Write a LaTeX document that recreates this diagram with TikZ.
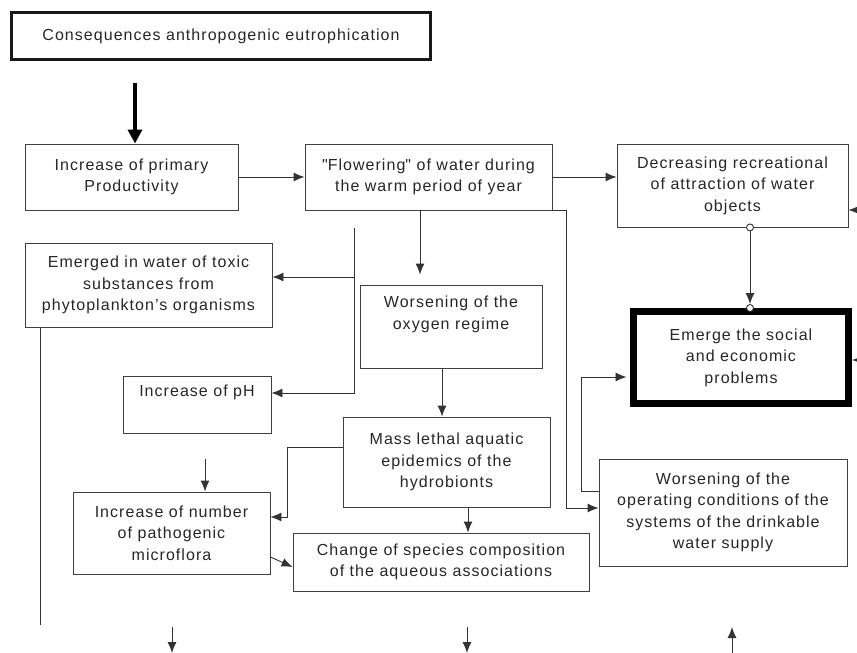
\documentclass[tikz,border=0pt]{standalone}
\usepackage{fontspec}
\setmainfont{Liberation Sans}[LetterSpace=6.5]
\usepackage{tikz}
\usetikzlibrary{arrows.meta}
\tikzset{
  effbox/.style={draw=black!75, line width=0.9pt, align=center, inner sep=0pt, text=black!85, font=\fontsize{16}{21.5}\selectfont},
  effarrow/.style={draw=black!80, line width=0.9pt, -{Latex[length=11pt,width=9pt]}},
  effline/.style={draw=black!80, line width=0.9pt}
}
\newcommand{\effbox}[6]{\node[effbox, minimum width=#4pt, minimum height=#5pt] (#1) at (#2,#3) {#6};}

\begin{document}
\begin{tikzpicture}[x=1pt, y=-1pt]
    \useasboundingbox (0,0) rectangle (857,653);
    % heading
    \node[effbox, draw=black!90, line width=3pt, minimum width=419pt, minimum height=47pt] (title) at (221,36) {Consequences anthropogenic eutrophication};
    % row 1
    \effbox{prim}{131.5}{177}{213}{66}{Increase of primary\\Productivity}
    \effbox{flow}{428.5}{177}{247}{66}{\textquotedbl Flowering\textquotedbl{} of water during\\the warm period of year}
    \effbox{decr}{732.5}{185.5}{231}{83}{Decreasing recreational\\of attraction of water\\objects}
    % row 2
    \effbox{toxic}{148.5}{285}{247}{84}{Emerged in water of toxic\\substances from\\phytoplankton's organisms}
    \effbox{oxy}{451}{326.5}{182}{83}{Worsening of the\\oxygen regime\\\strut}
    \node[effbox, draw=black, line width=7pt, minimum width=215pt, minimum height=92pt] (social) at (741,357.5) {Emerge the social\\and economic\\problems};
    % row 3
    \effbox{ph}{197}{404.5}{148}{57}{Increase of pH\\\strut}
    \effbox{mass}{446.5}{462}{207}{90}{Mass lethal aquatic\\epidemics of the\\hydrobionts}
    \effbox{supply}{723}{512.5}{248}{107}{Worsening of the\\operating conditions of the\\systems of the drinkable\\water supply}
    % row 4
    \effbox{patho}{171.5}{533}{197}{82}{Increase of number\\of pathogenic\\microflora}
    \effbox{spec}{441}{562}{296}{58}{Change of species composition\\of the aqueous associations}

    % main arrow
    \coordinate (t1) at (135,83);
    \draw[draw=black, line width=4pt, -{Triangle[length=14pt,width=14pt]}] (t1) -- (t1 |- prim.north);
    % row 1 links
    \draw[effarrow] (prim.east) -- (flow.west);
    \draw[effarrow] (flow.east) -- (flow.east -| decr.west);
    \coordinate (r1) at (857,210);
    \coordinate (r2) at (857,360);
    \draw[effarrow] (r1) -- (r1 -| decr.east);
    \draw[effarrow] (r2) -- (r2 -| social.east);
    % decreasing -> social
    \coordinate (d1) at ([xshift=17.5pt]decr.south);
    \draw[effarrow, shorten >=4pt] (d1) -- (d1 |- social.north);
    \draw[effline, fill=white] (d1) circle[radius=3.5pt];
    \draw[effline, fill=white] (d1 |- social.north) circle[radius=3.5pt];
    % toxic and pH
    \coordinate (v1) at (354,228);
    \coordinate (v2) at (354,393);
    \coordinate (v3) at (354,277);
    \draw[effarrow] (v1) -- (v2) -- (v2 -| ph.east);
    \draw[effarrow] (v3) -- (v3 -| toxic.east);
    % middle column
    \coordinate (f1) at ([xshift=-8.5pt]flow.south);
    \draw[effarrow, shorten >=10pt] (f1) -- (f1 |- oxy.north);
    \coordinate (o1) at ([xshift=-9pt]oxy.south);
    \draw[effarrow] (o1) -- (o1 |- mass.north);
    \coordinate (m2) at ([xshift=21.5pt]mass.south);
    \draw[effarrow] (m2) -- (m2 |- spec.north);
    % pathogenic microflora
    \coordinate (m1) at ([yshift=15pt]mass.west);
    \coordinate (p1) at ([yshift=16pt]patho.east);
    \coordinate (k1) at (287,0);
    \draw[effarrow] (m1) -- (m1 -| k1) -- (k1 |- p1) -- (p1);
    \coordinate (a1) at (205,459);
    \draw[effarrow] (a1) -- (a1 |- patho.north);
    \draw[effarrow] ([yshift=-24pt]patho.east) -- ([yshift=-5pt]spec.west);
    % drinkable water supply
    \coordinate (s1) at ([yshift=4.5pt]supply.west);
    \draw[effarrow] (flow.south east) -- ++(14,0) |- (s1);
    \coordinate (s2) at ([yshift=21.5pt]supply.west);
    \coordinate (q1) at ([yshift=-19.5pt]social.west);
    \draw[effarrow, shorten >=3.5pt] (s2) -- ++(-17,0) |- (q1);
    % bottom
    \coordinate (e1) at ([xshift=-108.5pt]toxic.south);
    \draw[effline] (e1) -- ++(0,298);
    \coordinate (b1) at (172,627);
    \coordinate (b2) at (467,627);
    \coordinate (b3) at (732,653);
    \draw[effarrow] (b1) -- ++(0,26);
    \draw[effarrow] (b2) -- ++(0,26);
    \draw[effarrow] (b3) -- ++(0,-26);
\end{tikzpicture}
\end{document}
